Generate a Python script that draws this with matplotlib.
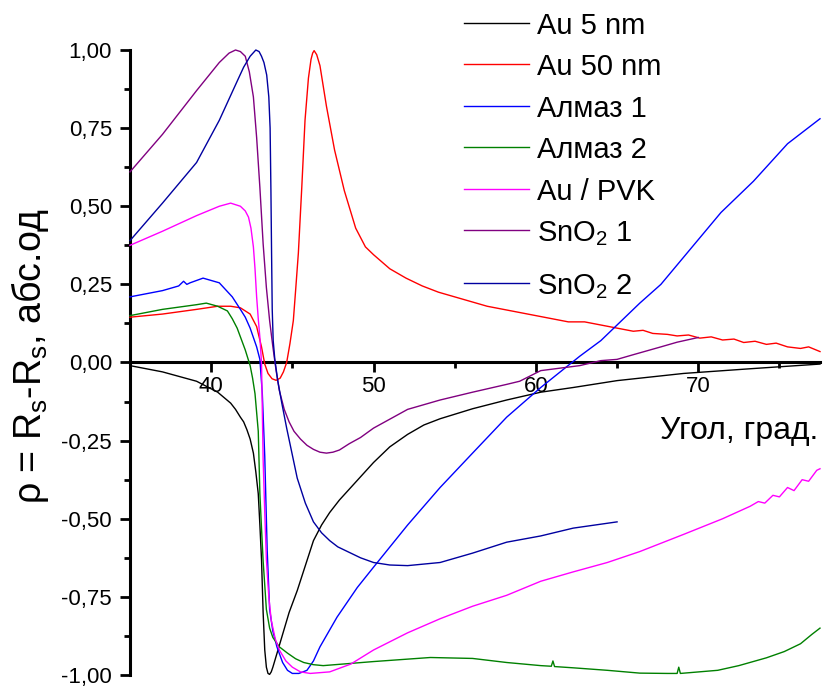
import matplotlib
matplotlib.use('Agg')
import matplotlib.pyplot as plt
from matplotlib.lines import Line2D
from matplotlib.ticker import MultipleLocator, FuncFormatter

plt.rcParams['font.family'] = ['Liberation Sans', 'DejaVu Sans']
plt.rcParams['mathtext.fontset'] = 'custom'
plt.rcParams['mathtext.rm'] = 'Liberation Sans'
plt.rcParams['axes.unicode_minus'] = False

# --- data (angle, deg -> rho) ---
au5_x = [35, 37, 39.1, 40.4, 41.2, 41.5, 41.8, 42.0, 42.2, 42.4, 42.6, 42.75, 42.9,
         43.0, 43.1, 43.2, 43.3, 43.4, 43.5, 43.6, 43.7, 43.8, 44.0, 44.4, 44.8,
         45.3, 45.8, 46.3, 46.8, 47.3, 47.9, 48.6, 49.3, 50.0, 51.0, 52.1, 53.1,
         54.1, 56.1, 58.2, 60.3, 62.3, 65.0, 69.1, 73.2, 77.5]
au5_y = [-0.01, -0.03, -0.06, -0.095, -0.13, -0.15, -0.175, -0.19, -0.215, -0.245,
         -0.29, -0.35, -0.42, -0.52, -0.63, -0.80, -0.92, -0.975, -0.995, -0.998,
         -0.99, -0.975, -0.94, -0.87, -0.80, -0.73, -0.65, -0.57, -0.52, -0.48, -0.44,
         -0.40, -0.36, -0.32, -0.27, -0.23, -0.20, -0.18, -0.148, -0.12, -0.095, -0.08,
         -0.058, -0.035, -0.02, -0.005]

au50_x = [35, 37, 39.1, 40.4, 41.2, 41.8, 42.4, 42.8, 43.1, 43.3, 43.5, 43.75, 44.0,
          44.25, 44.45, 44.65, 44.85, 45.06, 45.2, 45.37, 45.58, 45.78, 45.99, 46.15,
          46.25, 46.34, 46.5, 46.7, 47.1, 47.6, 48.2, 48.9, 49.5, 50.0, 51.0, 52.0,
          53.0, 54.0, 55.0, 56.0, 57.0, 58.0, 59.0, 60.0, 61.0, 62.0, 63.0, 64.0,
          65.0, 66.0, 66.6, 67.2, 68.1, 68.7, 69.4, 70.1, 70.8, 71.5, 72.2, 72.8,
          73.5, 74.2, 74.8, 75.5, 76.3, 76.8, 77.5]
au50_y = [0.145, 0.155, 0.17, 0.18, 0.18, 0.175, 0.155, 0.115, 0.05, -0.005, -0.035,
          -0.052, -0.057, -0.05, -0.03, 0.0, 0.06, 0.134, 0.23, 0.35, 0.56, 0.775,
          0.91, 0.97, 0.99, 0.998, 0.985, 0.95, 0.82, 0.68, 0.55, 0.43, 0.37, 0.345,
          0.30, 0.27, 0.245, 0.225, 0.21, 0.195, 0.18, 0.17, 0.16, 0.15, 0.14, 0.13,
          0.13, 0.12, 0.11, 0.10, 0.103, 0.093, 0.09, 0.085, 0.088, 0.078, 0.082,
          0.072, 0.075, 0.064, 0.068, 0.058, 0.062, 0.05, 0.045, 0.05, 0.035]

alm1_x = [35, 37, 38.0, 38.3, 38.5, 38.7, 39.5, 40.5, 41.3, 41.8, 42.1, 42.4, 42.6,
          42.8, 43.0, 43.15, 43.3, 43.45, 43.6, 43.8, 44.05, 44.4, 44.7, 45.0, 45.4,
          45.9, 46.3, 46.7, 47.75, 49.0, 50.0, 52.1, 54.1, 56.1, 58.2, 60.3, 62.7,
          64.0, 66.4, 67.7, 71.4, 73.4, 75.5, 77.5]
alm1_y = [0.21, 0.23, 0.245, 0.26, 0.25, 0.255, 0.27, 0.255, 0.21, 0.17, 0.145, 0.11,
          0.08, 0.05, 0.01, -0.1, -0.3, -0.6, -0.79, -0.86, -0.91, -0.96, -0.985,
          -0.995, -0.995, -0.985, -0.955, -0.91, -0.815, -0.72, -0.655, -0.52, -0.40,
          -0.29, -0.175, -0.08, 0.02, 0.07, 0.19, 0.25, 0.48, 0.58, 0.70, 0.78]

alm2_x = [35, 37, 39.1, 39.7, 40.4, 41.0, 41.3, 41.6, 41.85, 42.1, 42.4, 42.55, 42.7,
          42.8, 42.9, 43.0, 43.1, 43.2, 43.4, 43.6, 43.8, 44.2, 44.7, 45.2, 45.7,
          46.3, 46.9, 48.1, 50.0, 53.5, 56.1, 58.2, 60.3, 60.95, 61.05, 61.15, 62.3,
          64.4, 66.4, 68.1, 68.7, 68.8, 68.9, 71.2, 72.5, 74.2, 75.3, 76.3, 77.0, 77.5]
alm2_y = [0.15, 0.17, 0.185, 0.19, 0.18, 0.165, 0.14, 0.11, 0.075, 0.04, -0.01, -0.05,
          -0.10, -0.16, -0.22, -0.42, -0.53, -0.635, -0.79, -0.85, -0.88, -0.91, -0.93,
          -0.948, -0.96, -0.967, -0.97, -0.965, -0.957, -0.944, -0.947, -0.96, -0.97,
          -0.972, -0.955, -0.973, -0.977, -0.985, -0.994, -0.995, -0.995, -0.975,
          -0.995, -0.985, -0.97, -0.945, -0.925, -0.90, -0.87, -0.85]

pvk_x = [35, 37, 39.1, 40.5, 41.2, 41.8, 42.1, 42.3, 42.45, 42.6, 42.7, 42.8, 42.9,
         43.0, 43.1, 43.2, 43.3, 43.4, 43.55, 43.7, 43.95, 44.2, 44.6, 45.0, 45.5,
         46.1, 47.3, 48.6, 50.0, 52.1, 54.1, 56.1, 58.2, 60.3, 62.3, 64.4, 66.4, 69.1,
         71.5, 73.2, 73.7, 74.1, 74.6, 75.0, 75.5, 75.9, 76.4, 76.8, 77.3, 77.5]
pvk_y = [0.375, 0.42, 0.47, 0.50, 0.51, 0.50, 0.485, 0.465, 0.43, 0.37, 0.30, 0.21,
         0.14, 0.08, 0.0, -0.31, -0.48, -0.63, -0.75, -0.825, -0.885, -0.92, -0.955,
         -0.975, -0.99, -0.995, -0.99, -0.965, -0.92, -0.865, -0.82, -0.78, -0.745,
         -0.70, -0.67, -0.64, -0.605, -0.55, -0.50, -0.46, -0.445, -0.45, -0.425, -0.43,
         -0.40, -0.41, -0.375, -0.38, -0.345, -0.34]

sno1_x = [35, 37, 39.1, 40.5, 41.1, 41.5, 41.8, 42.1, 42.35, 42.6, 42.8, 43.0, 43.2,
          43.4, 43.6, 43.8, 44.0, 44.2, 44.5, 44.8, 45.1, 45.5, 45.9, 46.3, 46.7,
          47.1, 47.5, 47.9, 48.5, 49.2, 50.0, 52.1, 54.1, 56.1, 58.2, 59.0, 60.3,
          62.7, 64.0, 65.0, 66.0, 67.7, 68.7, 70.0]
sno1_y = [0.61, 0.73, 0.87, 0.96, 0.99, 1.0, 0.995, 0.98, 0.93, 0.85, 0.72, 0.56, 0.38,
          0.24, 0.134, 0.05, -0.026, -0.09, -0.15, -0.19, -0.22, -0.245, -0.265,
          -0.278, -0.287, -0.29, -0.287, -0.28, -0.26, -0.24, -0.21, -0.15, -0.12,
          -0.095, -0.07, -0.06, -0.026, -0.01, 0.006, 0.01, 0.025, 0.05, 0.065, 0.08]

sno2_x = [35, 37, 39.1, 40.5, 41.6, 42.0, 42.4, 42.75, 42.95, 43.1, 43.25, 43.42,
          43.55, 43.63, 43.68, 43.72, 43.76, 43.82, 43.92, 44.1, 44.35, 44.65, 45.3,
          45.8, 46.3, 46.8, 47.3, 47.8, 48.4, 49.2, 50.0, 51.0, 52.1, 54.1, 56.1, 58.2,
          60.3, 62.3, 65.0]
sno2_y = [0.39, 0.51, 0.64, 0.775, 0.90, 0.945, 0.98, 1.0, 0.995, 0.98, 0.96, 0.92,
          0.85, 0.75, 0.55, 0.35, 0.17, 0.07, 0.01, -0.058, -0.13, -0.21, -0.37, -0.45,
          -0.51, -0.545, -0.57, -0.59, -0.605, -0.625, -0.64, -0.648, -0.65, -0.64,
          -0.61, -0.575, -0.555, -0.53, -0.51]

series = [
    (au5_x, au5_y, '#000000', 'Au 5 nm'),
    (au50_x, au50_y, '#ff0000', 'Au 50 nm'),
    (alm1_x, alm1_y, '#0000ff', 'Алмаз 1'),
    (alm2_x, alm2_y, '#008000', 'Алмаз 2'),
    (pvk_x, pvk_y, '#ff00ff', 'Au / PVK'),
    (sno1_x, sno1_y, '#800080', r'SnO$_\mathregular{2}$ 1'),
    (sno2_x, sno2_y, '#0000a0', r'SnO$_\mathregular{2}$ 2'),
]

W, H = 823, 687
fig = plt.figure(figsize=(W / 100, H / 100), dpi=100)
fig.patch.set_facecolor('white')
ax = fig.add_axes([130 / W, 12 / H, 690 / W, 625 / H])

for xs, ys, col, lbl in series:
    ax.plot(xs, ys, color=col, lw=1.0, clip_on=False, zorder=3)

ax.set_xlim(35, 77.5)
ax.set_ylim(-1, 1)

for s in ['top', 'right']:
    ax.spines[s].set_visible(False)
ax.spines['bottom'].set_position(('data', 0))
ax.spines['bottom'].set_linewidth(2.2)
ax.spines['left'].set_linewidth(2.2)
ax.spines['bottom'].set_zorder(2)

ax.xaxis.set_major_locator(MultipleLocator(10))
ax.xaxis.set_minor_locator(MultipleLocator(5))
ax.yaxis.set_major_locator(MultipleLocator(0.25))
ax.yaxis.set_minor_locator(MultipleLocator(0.125))
ax.yaxis.set_major_formatter(FuncFormatter(lambda v, p: f'{v:.2f}'.replace('.', ',')))
ax.xaxis.set_major_formatter(FuncFormatter(lambda v, p: f'{v:.0f}'))

ax.tick_params(axis='both', which='major', direction='out', length=7, width=2,
               labelsize=16)
ax.tick_params(axis='both', which='minor', direction='out', length=4.5, width=2)
ax.tick_params(axis='x', pad=3)
ax.tick_params(axis='y', pad=6)

ax.set_xlabel('Угол, град.', fontsize=23, ha='right', va='center')
ax.xaxis.set_label_coords(0.998, 0.391)
ax.set_ylabel(r'ρ = R$_\mathregular{s}$-R$_\mathregular{s}$, абс.од', fontsize=27,
              va='center')
ax.yaxis.set_label_coords(-0.145, 0.51)

# legend drawn by hand (positions in pixels of the figure)
leg_rows = [23, 64, 106, 147, 189, 230, 283]
for (xs, ys, col, lbl), ry in zip(series, leg_rows):
    fy = 1 - ry / H
    fig.add_artist(Line2D([464 / W, 529 / W], [fy, fy], color=col, lw=1.0,
                          transform=fig.transFigure))
    fig.text(537 / W, 1 - (ry + 11) / H, lbl, fontsize=21, ha='left',
             va='baseline')

fig.savefig('out.png', dpi=100, facecolor='white')
